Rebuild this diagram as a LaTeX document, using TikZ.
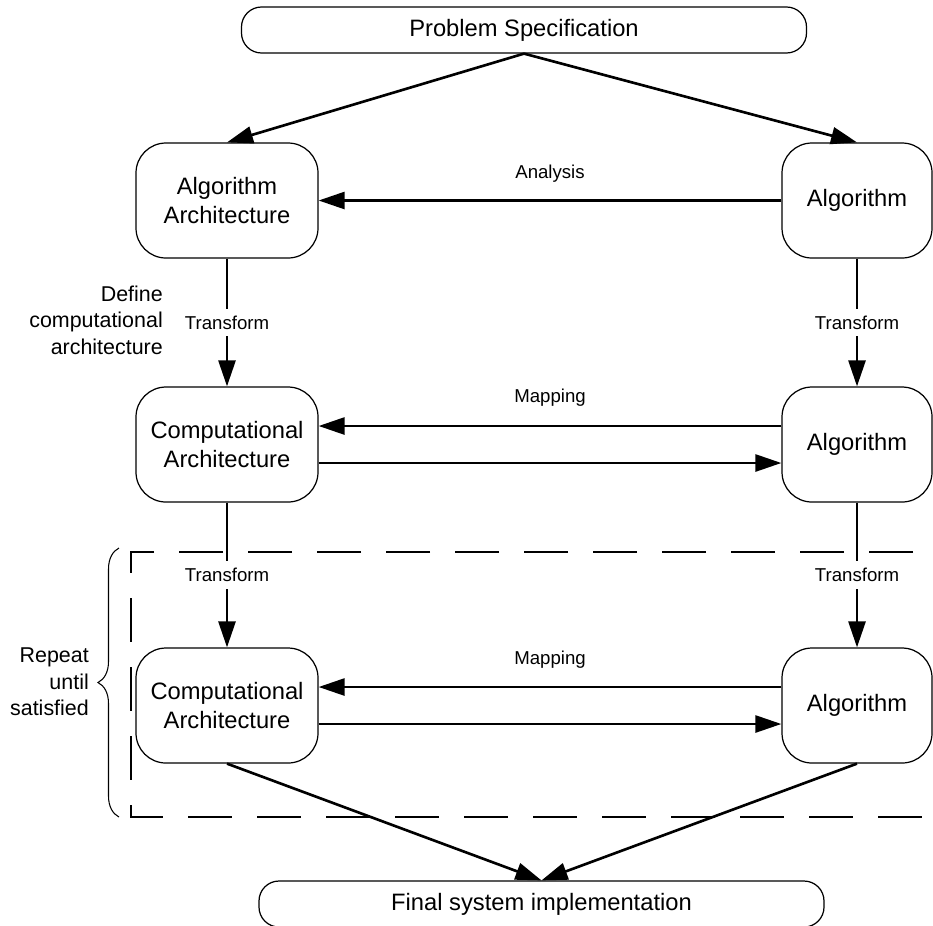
\documentclass[tikz,border=0pt]{standalone}
\usepackage{fontspec}
\setmainfont{Liberation Sans}
\usepackage{xcolor}
\usetikzlibrary{arrows.meta, decorations.pathreplacing}
\definecolor{inkblack}{RGB}{0, 0, 0}

\begin{document}
\begin{tikzpicture}[
        block/.style={rectangle, rounded corners=0.6cm, draw=inkblack, line width=0.7pt, minimum height=2.3cm, inner sep=0pt, align=center, font=\fontsize{13.5}{16}\selectfont},
        archblock/.style={block, minimum width=3.64cm},
        algblock/.style={block, minimum width=3cm},
        terminal/.style={rectangle, rounded corners=0.4cm, draw=inkblack, line width=0.7pt, minimum width=11.3cm, minimum height=0.92cm, font=\fontsize{13.5}{16}\selectfont},
        flow/.style={-{Triangle[length=0.52cm, width=0.34cm]}, line width=1.5pt, color=inkblack},
        flowlabel/.style={font=\fontsize{10.6}{12}\selectfont},
        cutlabel/.style={flowlabel, fill=white, inner sep=4pt},
        sidenote/.style={align=right, font=\fontsize{12.2}{15}\selectfont},
        loopbox/.style={dash pattern=on 0.88cm off 0.5cm, line width=1.5pt}
    ]
    \useasboundingbox (0,0) rectangle (18.66,-18.5);

    % Repeated region
    \coordinate (loopTR) at (19.64,-11.04);
    \coordinate (loopTL) at (2.62,-11.04);
    \coordinate (loopBL) at (2.62,-16.34);
    \coordinate (loopBR) at (19.64,-16.34);
    \draw[loopbox] (loopTR) -- (loopTL) -- (loopBL) -- (loopBR);

    % Start and end
    \node[terminal] (spec) at (10.48,-0.60) {Problem Specification};
    \node[terminal] (final) at (10.83,-18.08) {Final system implementation};

    % Left column
    \node[archblock] (algarch) at (4.54,-4.01) {Algorithm\\Architecture};
    \node[archblock] (comp1) at (4.54,-8.89) {Computational\\Architecture};
    \node[archblock] (comp2) at (4.54,-14.11) {Computational\\Architecture};

    % Right column
    \node[algblock] (alg1) at (17.14,-4.01) {Algorithm};
    \node[algblock] (alg2) at (17.14,-8.89) {Algorithm};
    \node[algblock] (alg3) at (17.14,-14.11) {Algorithm};

    % Side notes
    \node[sidenote, anchor=east] (definenote) at (3.38,-6.40) {Define\\computational\\architecture};
    \node[sidenote, anchor=east] (repeatnote) at (1.90,-13.64) {Repeat\\until\\satisfied};
    \coordinate (braceTop) at (2.38,-10.96);
    \coordinate (braceBot) at (2.38,-16.34);
    \draw[decorate, decoration={brace, amplitude=0.42cm}, line width=0.6pt] (braceBot) -- (braceTop);

    % Flows from the specification
    \draw[flow] (spec.south) -- (algarch.north);
    \draw[flow] (spec.south) -- (alg1.north);
    \draw[flow] (alg1.west) -- node[flowlabel, yshift=0.54cm] (analysis) {Analysis} (algarch.east);

    % Transforms
    \draw[flow] (algarch.south) -- node[cutlabel] (trans1) {Transform} (comp1.north);
    \draw[flow] (alg1.south) -- node[cutlabel] (trans2) {Transform} (alg2.north);
    \draw[flow] (comp1.south) -- node[cutlabel] (trans3) {Transform} (comp2.north);
    \draw[flow] (alg2.south) -- node[cutlabel] (trans4) {Transform} (alg3.north);

    % Mappings
    \draw[flow] ([yshift=0.37cm]alg2.west) -- node[flowlabel, yshift=0.56cm] (map1) {Mapping} ([yshift=0.37cm]comp1.east);
    \draw[flow] ([yshift=-0.37cm]comp1.east) -- ([yshift=-0.37cm]alg2.west);
    \draw[flow] ([yshift=0.37cm]alg3.west) -- node[flowlabel, yshift=0.54cm] (map2) {Mapping} ([yshift=0.37cm]comp2.east);
    \draw[flow] ([yshift=-0.37cm]comp2.east) -- ([yshift=-0.37cm]alg3.west);

    % Final implementation
    \draw[flow] (comp2.south) -- (final.north);
    \draw[flow] (alg3.south) -- (final.north);

\end{tikzpicture}
\end{document}
